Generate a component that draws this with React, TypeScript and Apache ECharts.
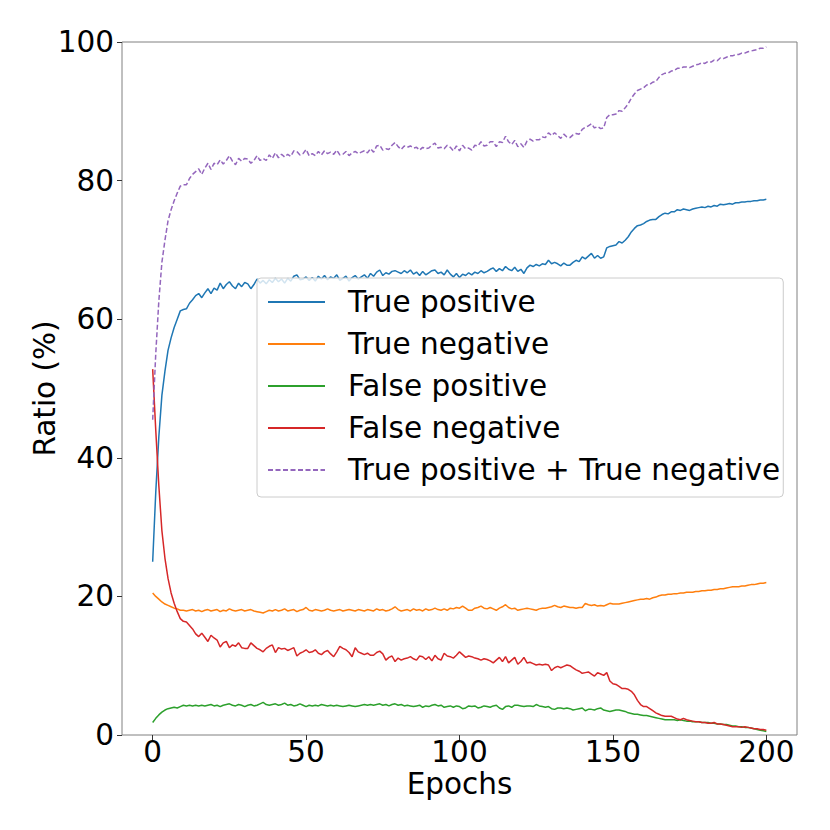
import React, { useEffect, useRef } from "react";
import * as echarts from "echarts";

// Epochs 0..200
const epochs: number[] = Array.from({ length: 201 }, (_, i) => i);

const xTicks = [0, 50, 100, 150, 200];
const yTicks = [0, 20, 40, 60, 80, 100];

const seriesNames = [
  "True positive",
  "True negative",
  "False positive",
  "False negative",
  "True positive + True negative",
];

const truePositive = [
  25.0, 35.0, 43.0, 49.0, 52.5, 55.5, 57.3, 58.8, 60.0, 61.2,
  61.4, 61.5, 62.3, 62.8, 63.4, 63.7, 63.1, 63.8, 64.4, 63.7,
  64.5, 64.2, 65.2, 64.4, 65.0, 65.4, 64.8, 64.4, 65.2, 64.7,
  65.3, 65.1, 64.4, 65.0, 65.8, 65.2, 65.6, 65.1, 65.7, 65.3,
  65.9, 65.4, 65.8, 65.2, 65.9, 65.5, 66.2, 66.4, 65.7, 65.8,
  66.1, 65.6, 66.0, 65.5, 66.2, 65.8, 66.3, 65.7, 66.1, 65.9,
  66.4, 65.6, 65.9, 66.2, 65.5, 66.0, 66.3, 65.8, 66.1, 66.4,
  65.9, 66.6, 66.2, 66.8, 67.1, 66.3, 66.7, 66.5, 66.9, 67.0,
  66.8, 66.6, 67.0, 66.7, 67.1, 66.5, 66.8, 66.3, 66.9, 66.4,
  66.7, 67.0, 67.1, 66.6, 66.8, 66.4, 67.1, 66.5, 66.1, 66.6,
  66.0, 66.5, 66.3, 66.7, 66.4, 66.8, 66.6, 67.0, 66.7, 66.9,
  67.2, 67.4, 66.9, 67.3, 67.0, 67.6, 67.2, 67.0, 67.5, 66.9,
  67.2, 66.6, 67.4, 67.8, 67.6, 67.9, 67.7, 68.0, 67.9, 68.5,
  68.0, 68.2, 68.0, 67.7, 68.1, 67.8, 67.8, 68.2, 68.5, 68.3,
  69.0, 68.7, 69.1, 69.5, 68.8, 69.2, 68.8, 69.0, 70.3, 70.5,
  70.6, 70.7, 71.2, 71.0, 71.4, 71.9, 72.6, 73.1, 73.5, 73.6,
  73.8, 74.1, 74.3, 74.4, 74.4, 74.8, 75.1, 75.3, 75.2, 75.5,
  75.5, 75.8, 75.7, 75.9, 75.8, 75.7, 75.9, 76.0, 76.1, 76.2,
  76.1, 76.3, 76.2, 76.4, 76.3, 76.6, 76.5, 76.6, 76.7, 76.6,
  76.8, 76.8, 76.9, 76.9, 77.0, 77.0, 77.1, 77.1, 77.2, 77.2,
  77.3,
];

const trueNegative = [
  20.5, 20.0, 19.6, 19.2, 18.9, 18.7, 18.5, 18.3, 18.2, 18.0,
  18.0, 17.9, 18.0, 18.1, 17.9, 18.0, 17.8, 18.0, 18.1, 17.9,
  18.0, 18.1, 17.8, 18.0, 17.9, 18.2, 18.0, 17.9, 18.0, 18.1,
  17.9, 18.0, 18.1, 17.9, 17.8, 17.7, 17.6, 17.8, 18.0, 17.9,
  18.1, 17.9, 18.0, 18.2, 17.9, 18.0, 18.1, 17.8, 18.0, 18.1,
  18.4, 18.0, 17.9, 18.1, 18.0, 17.9, 18.0, 18.2, 18.0, 17.9,
  18.0, 18.1, 17.9, 18.0, 18.1, 18.0, 17.9, 18.1, 18.0, 17.9,
  18.1, 18.0, 17.9, 18.2, 18.0, 18.1, 17.9, 18.0, 18.2, 18.5,
  18.1, 17.9, 18.0, 18.1, 17.9, 18.2, 18.0, 18.1, 17.9, 18.2,
  18.0, 18.1, 18.3, 18.1, 18.0, 18.2, 18.0, 18.3, 18.2, 18.4,
  18.3, 18.6, 18.3, 18.0, 18.0, 18.3, 18.4, 18.6, 18.3, 18.2,
  18.4, 18.2, 18.0, 18.3, 18.5, 18.8, 18.4, 18.2, 18.3, 18.0,
  18.1, 18.2, 18.3, 18.2, 18.1, 18.0, 18.2, 18.3, 18.3, 18.4,
  18.5, 18.7, 18.5, 18.4, 18.6, 18.5, 18.4, 18.4, 18.3, 18.4,
  18.4, 19.0, 18.8, 18.7, 18.8, 18.6, 18.7, 18.6, 18.8, 19.0,
  18.9, 18.9, 18.9, 19.0, 19.1, 19.2, 19.3, 19.4, 19.5, 19.6,
  19.6, 19.7, 19.6, 19.8, 19.9, 20.1, 20.2, 20.2, 20.3, 20.3,
  20.4, 20.4, 20.5, 20.5, 20.6, 20.6, 20.6, 20.7, 20.7, 20.8,
  20.8, 20.9, 20.9, 21.0, 21.0, 21.1, 21.1, 21.2, 21.3, 21.4,
  21.4, 21.4, 21.5, 21.5, 21.6, 21.7, 21.7, 21.8, 21.9, 21.9,
  22.0,
];

const falsePositive = [
  1.8, 2.4, 2.9, 3.3, 3.6, 3.8, 3.9, 4.0, 3.9, 4.1,
  4.3, 4.2, 4.3, 4.2, 4.3, 4.2, 4.3, 4.2, 4.3, 4.4,
  4.2, 4.3, 4.1, 4.3, 4.4, 4.5, 4.3, 4.2, 4.4, 4.3,
  4.1, 4.3, 4.4, 4.2, 4.3, 4.5, 4.7, 4.4, 4.3, 4.4,
  4.5, 4.3, 4.4, 4.6, 4.3, 4.4, 4.2, 4.3, 4.5, 4.3,
  4.1, 4.3, 4.2, 4.3, 4.2, 4.4, 4.3, 4.2, 4.3, 4.2,
  4.3, 4.2, 4.1, 4.2, 4.3, 4.2, 4.1, 4.2, 4.3, 4.4,
  4.3, 4.4, 4.3, 4.4, 4.5, 4.3, 4.4, 4.2, 4.4, 4.5,
  4.3, 4.4, 4.2, 4.3, 4.2, 4.1, 4.2, 4.3, 4.0, 4.2,
  4.1, 4.3, 4.4, 4.2, 4.3, 4.0, 4.1, 4.2, 4.0, 4.2,
  4.1, 3.8, 3.9, 4.2, 4.1, 4.2, 3.9, 4.0, 4.2, 4.1,
  4.0, 4.2, 4.3, 3.9, 3.7, 4.1, 4.2, 4.0, 4.3, 4.3,
  4.2, 4.1, 4.2, 4.2, 4.1, 4.4, 4.2, 4.1, 4.0, 4.1,
  3.8, 3.7, 3.9, 3.9, 3.8, 3.9, 3.8, 3.6, 3.7, 3.8,
  3.9, 3.5, 3.7, 3.7, 3.6, 3.8, 3.9, 3.6, 3.5, 3.4,
  3.5, 3.6, 3.6, 3.5, 3.4, 3.2, 3.1, 3.0, 3.0, 2.9,
  2.8, 2.8, 2.7, 2.6, 2.5, 2.4, 2.3, 2.2, 2.2, 2.2,
  2.2, 2.1, 2.2, 2.1, 2.0, 2.0, 1.9, 1.9, 1.9, 1.8,
  1.8, 1.8, 1.7, 1.7, 1.6, 1.6, 1.5, 1.5, 1.4, 1.3,
  1.3, 1.2, 1.2, 1.1, 1.1, 1.0, 0.9, 0.8, 0.7, 0.6,
  0.5,
];

const falseNegative = [
  52.8, 44.0, 36.0, 29.5, 25.5, 22.6, 20.5, 19.0, 17.8, 16.8,
  16.4, 16.3, 15.8, 15.3, 14.6, 14.2, 14.7, 14.1, 13.5, 14.4,
  14.0, 13.7, 12.7, 13.3, 13.5, 12.6, 13.0, 12.8, 13.3, 12.6,
  12.5, 12.5, 13.3, 12.9, 12.5, 12.3, 12.0, 12.5, 12.8, 13.0,
  11.9, 12.6, 12.4, 12.5, 12.2, 12.4, 12.6, 11.4, 11.8, 12.0,
  12.3, 11.9, 12.0, 12.3, 11.8, 11.6, 12.0, 12.2, 11.7, 11.3,
  12.0, 12.8, 12.5, 12.3, 11.9, 11.3, 12.6, 12.0, 11.8, 11.6,
  11.8, 11.5, 11.5, 11.9, 12.1, 11.7, 10.8, 11.2, 11.4, 10.6,
  11.1, 10.8, 11.0, 11.1, 11.3, 11.0, 10.8, 11.4, 11.3, 10.9,
  11.3, 10.7, 11.5, 11.0, 10.8, 11.8, 11.4, 11.3, 11.1, 11.5,
  12.0, 11.6, 11.2, 11.4, 11.3, 11.1, 11.0, 10.8, 11.0, 10.9,
  10.7, 10.4, 10.8, 11.2, 10.6, 11.3, 10.4, 10.8, 11.2, 10.2,
  10.6, 11.2, 10.4, 10.5, 10.3, 10.1, 10.2, 10.1, 10.2, 10.1,
  9.3, 9.7, 9.9, 9.7, 9.9, 10.1, 10.0, 9.7, 9.4, 9.2,
  8.9, 9.0, 9.1, 8.8, 8.5, 9.0, 8.8, 8.6, 9.0, 7.8,
  7.4, 7.3, 7.0, 6.7, 6.7, 6.6, 6.3, 5.8, 5.0, 4.4,
  4.1, 4.1, 3.8, 3.5, 3.2, 3.0, 2.8, 2.7, 2.7, 2.7,
  2.5, 2.3, 2.2, 2.4, 2.2, 2.1, 2.0, 1.9, 1.9, 1.8,
  1.8, 1.7, 1.7, 1.8, 1.6, 1.6, 1.5, 1.4, 1.3, 1.2,
  1.2, 1.2, 1.1, 1.2, 1.1, 1.0, 0.9, 0.9, 0.8, 0.8,
  0.7,
];

const truePosPlusTrueNeg = [
  45.5, 55.0, 62.6, 68.2, 71.4, 74.2, 75.8, 77.1, 78.2, 79.2,
  79.4, 79.4, 80.3, 80.9, 81.3, 81.7, 80.9, 81.8, 82.5, 81.6,
  82.5, 82.3, 83.0, 82.4, 82.9, 83.6, 82.8, 82.3, 83.2, 82.8,
  83.2, 83.1, 82.5, 82.9, 83.6, 82.9, 83.2, 82.9, 83.7, 83.2,
  84.0, 83.3, 83.8, 83.4, 83.8, 83.5, 84.3, 84.2, 83.7, 83.9,
  84.5, 83.6, 83.9, 83.6, 84.2, 83.7, 84.3, 83.9, 84.1, 83.8,
  84.4, 83.7, 83.8, 84.2, 83.6, 84.0, 84.2, 83.9, 84.1, 84.3,
  84.0, 84.6, 84.1, 85.0, 85.1, 84.4, 84.6, 84.5, 85.1, 85.5,
  84.9, 84.5, 85.0, 84.8, 85.0, 84.7, 84.8, 84.4, 84.8, 84.6,
  84.7, 85.1, 85.4, 84.7, 84.8, 84.6, 85.1, 84.8, 84.3, 85.0,
  84.3, 85.1, 84.6, 84.7, 84.4, 85.1, 85.0, 85.6, 85.0, 85.1,
  85.6, 85.6, 84.9, 85.6, 85.5, 86.4, 85.6, 85.2, 85.8, 84.9,
  85.3, 84.8, 85.7, 86.0, 85.7, 85.9, 85.9, 86.3, 86.2, 86.9,
  86.5, 86.9, 86.5, 86.1, 86.7, 86.3, 86.2, 86.6, 86.8, 86.7,
  87.4, 87.7, 87.9, 88.2, 87.6, 87.8, 87.5, 87.6, 89.1, 89.5,
  89.5, 89.6, 90.1, 90.0, 90.5, 91.1, 91.9, 92.5, 93.0, 93.2,
  93.4, 93.8, 93.9, 94.2, 94.3, 94.9, 95.3, 95.5, 95.5, 95.8,
  95.9, 96.2, 96.2, 96.4, 96.4, 96.3, 96.5, 96.7, 96.8, 97.0,
  96.9, 97.2, 97.1, 97.4, 97.3, 97.7, 97.6, 97.8, 98.0, 98.0,
  98.2, 98.2, 98.4, 98.4, 98.6, 98.7, 98.8, 98.9, 99.1, 99.1,
  99.3,
];

const seriesValues = [truePositive, trueNegative, falsePositive, falseNegative, truePosPlusTrueNeg];
const seriesColors = ["#1f77b4", "#ff7f0e", "#2ca02c", "#d62728", "#9467bd"];

const FONT = "DejaVu Sans";
const FS = 29.5;

export default function App() {
  const ref = useRef<HTMLDivElement>(null);

  useEffect(() => {
    document.body.style.margin = "0";
    if (!ref.current) return;
    const chart = echarts.init(ref.current, undefined, { renderer: "svg" });

    const series = seriesNames.map((name, k) => ({
      name,
      type: "line",
      data: epochs.map((e, i) => [e, seriesValues[k][i]]),
      showSymbol: false,
      symbol: "none",
      color: seriesColors[k],
      lineStyle: {
        color: seriesColors[k],
        width: 1.5,
        type: k === 4 ? [5, 2.5] : "solid",
      },
      emphasis: { disabled: true },
      z: 2 + k,
    }));

    chart.setOption({
      animation: false,
      backgroundColor: "#ffffff",
      textStyle: { fontFamily: FONT },
      grid: {
        left: 122,
        right: 33,
        top: 42,
        bottom: 95,
        show: true,
        borderColor: "#808080",
        borderWidth: 1,
        backgroundColor: "transparent",
        containLabel: false,
        outerBoundsMode: "none",
      },
      legend: {
        orient: "vertical",
        left: 257,
        top: 278,
        padding: [7, 3, 10, 10],
        itemWidth: 57,
        itemHeight: 14,
        itemGap: 8,
        backgroundColor: "rgba(255,255,255,0.8)",
        borderColor: "#cccccc",
        borderWidth: 1,
        borderRadius: 4,
        selectedMode: false,
        data: seriesNames,
        itemStyle: { opacity: 0 },
        textStyle: {
          fontFamily: FONT,
          fontSize: FS,
          color: "#000000",
          lineHeight: 34,
          padding: [0, 0, 0, 18],
        },
      },
      xAxis: {
        type: "value",
        min: -10,
        max: 210,
        name: "Epochs",
        nameLocation: "middle",
        nameGap: 35,
        nameMoveOverlap: false,
        nameTextStyle: { fontFamily: FONT, fontSize: FS, color: "#000000", lineHeight: 28 },
        axisLine: { show: false, onZero: false },
        axisTick: {
          show: true,
          inside: false,
          length: 5,
          lineStyle: { color: "#333333", width: 1 },
          customValues: xTicks,
        },
        axisLabel: {
          fontFamily: FONT,
          fontSize: FS,
          color: "#000000",
          margin: 3,
          lineHeight: 28,
          customValues: xTicks,
        },
        splitLine: { show: false },
      },
      yAxis: {
        type: "value",
        min: 0,
        max: 100,
        interval: 20,
        name: "Ratio (%)",
        nameLocation: "middle",
        nameGap: 62,
        nameMoveOverlap: false,
        nameTextStyle: { fontFamily: FONT, fontSize: FS, color: "#000000" },
        axisLine: { show: false, onZero: false },
        axisTick: {
          show: true,
          inside: false,
          length: 5,
          lineStyle: { color: "#333333", width: 1 },
          customValues: yTicks,
        },
        axisLabel: {
          fontFamily: FONT,
          fontSize: FS,
          color: "#000000",
          margin: 8,
          customValues: yTicks,
        },
        splitLine: { show: false },
      },
      series,
    });

    return () => {
      chart.dispose();
    };
  }, []);

  return <div ref={ref} style={{ width: 830, height: 830 }} />;
}
